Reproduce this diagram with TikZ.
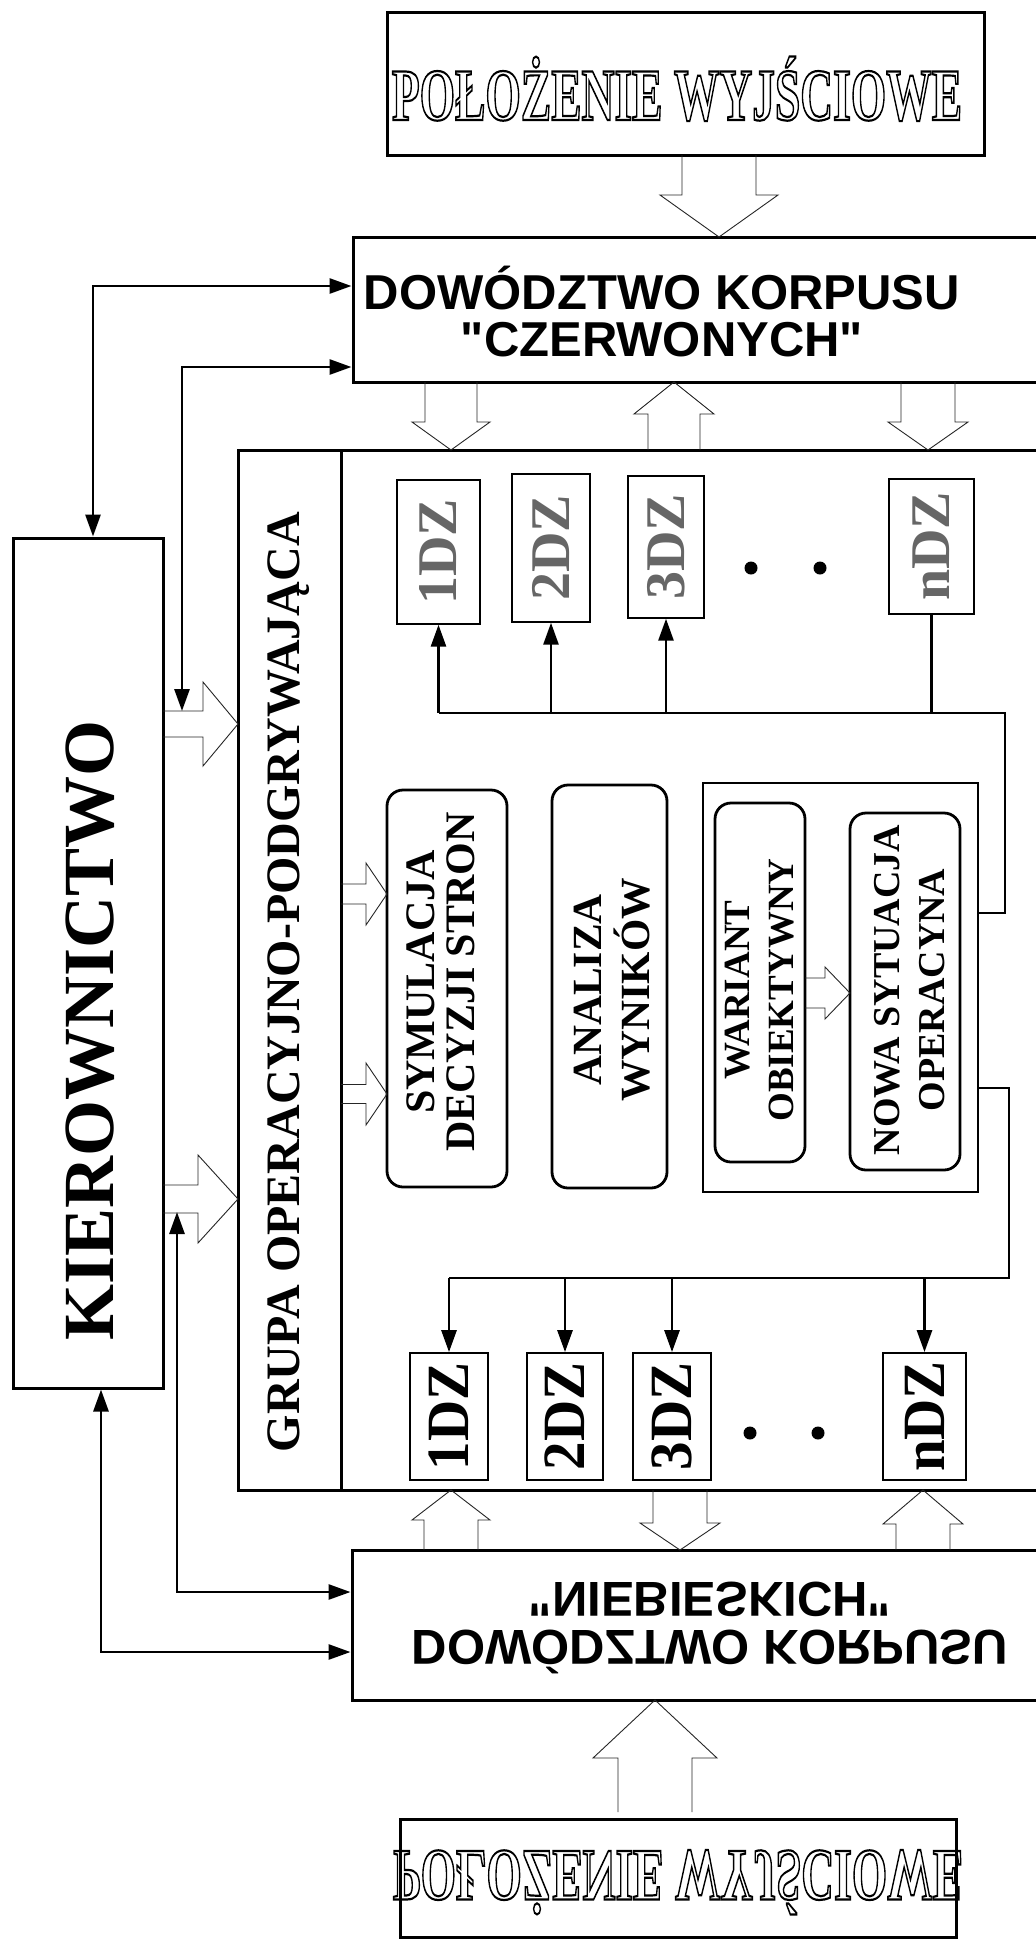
\documentclass[tikz,border=0pt]{standalone}
\usepackage{fontspec}
\setmainfont{Liberation Serif}
\newfontfamily\arialf{Liberation Sans}
\usetikzlibrary{arrows.meta}
\newcommand\sqz[2]{\scalebox{#1}[1]{#2}}
\newcommand\outl[1]{\special{pdf:literal direct 1 Tr 1.1 w}#1\special{pdf:literal direct 0 Tr}}
\newcommand\blkv[6]{\draw[blk] ({#1-#5},#2) -- ({#1-#5},#3) -- ({#1-#6},#3) -- (#1,#4) -- ({#1+#6},#3) -- ({#1+#5},#3) -- ({#1+#5},#2);}
\newcommand\blkh[6]{\draw[blk] (#2,{#1-#5}) -- (#3,{#1-#5}) -- (#3,{#1-#6}) -- (#4,#1) -- (#3,{#1+#6}) -- (#3,{#1+#5}) -- (#2,{#1+#5});}
\begin{document}
\begin{tikzpicture}[x=0.5pt,y=-0.5pt,
  box/.style={draw, line width=1.5pt, inner sep=0pt},
  thinbox/.style={draw, line width=0.7pt, inner sep=0pt},
  rbox/.style={draw, line width=1.4pt, rounded corners=8pt, inner sep=0pt},
  conn/.style={line width=1.4pt, -{Triangle[length=11pt,width=7.5pt]}},
  biconn/.style={line width=1.4pt, {Triangle[length=11pt,width=7.5pt]}-{Triangle[length=11pt,width=7.5pt]}},
  bus/.style={line width=1.4pt},
  blk/.style={draw=black!85, line width=0.45pt, line join=miter},
  dot/.style={circle, fill, inner sep=0pt, minimum size=6.5pt},
  lbl/.style={inner sep=0pt},
  tdz/.style={thinbox, font=\fontsize{28}{28}\selectfont\bfseries, text=black!60},
  bdz/.style={thinbox, line width=0.9pt, minimum height=63.5pt, font=\fontsize{30}{30}\selectfont\bfseries}
]
\fill[white] (0,0) rectangle (1036,1944);
\useasboundingbox (0,0) rectangle (1036,1944);

% --- main boxes
\node[box, minimum width=298.5pt, minimum height=71.5pt] (posT) at (685.5,83.5) {};
\node[lbl, anchor=base] (posTtext) at (677,120) {\fontsize{37}{37}\selectfont\bfseries\sqz{0.615}{\outl{POŁOŻENIE WYJŚCIOWE}}};

\node[box, minimum width=348.5pt, minimum height=72.5pt] (dowT) at (701.5,309.5) {};
\node[lbl] (dowTtext) at (662,318) {\arialf\bfseries\fontsize{24.5}{22.5}\selectfont
  \begin{tabular}{@{}c@{}}DOWÓDZTWO KORPUSU\\"CZERWONYCH"\end{tabular}};

\node[box, minimum width=75pt, minimum height=425pt] (kier) at (88,963) {};
\node[lbl, rotate=90, font=\fontsize{36}{36}\selectfont\bfseries] (kiertext) at (90,1030) {KIEROWNICTWO};

\node[box, minimum width=51.5pt, minimum height=520pt] (grupa) at (289.5,970) {};
\node[lbl, rotate=90, font=\fontsize{24}{24}\selectfont\bfseries] (grupatext) at (289,982) {GRUPA OPERACYJNO-PODGRYWAJĄCA};
\node[box, minimum width=354.5pt, minimum height=520pt] (sim) at (695.5,970) {};

\node[box, minimum width=349pt, minimum height=75pt] (dowB) at (701,1625) {};
\node[lbl] (dowBtext) at (710,1621) {\arialf\bfseries\fontsize{24.5}{24}\selectfont
  \scalebox{1}[-1]{\begin{tabular}{@{}c@{}}DOWÓDZTWO KORPUSU\\"NIEBIESKICH"\end{tabular}}};

\node[box, minimum width=278pt, minimum height=59pt] (posB) at (678,1878) {};
\node[lbl, anchor=base] (posBtext) at (678,1851) {\fontsize{37}{37}\selectfont\bfseries\scalebox{0.615}[-1]{\outl{POŁOŻENIE WYJŚCIOWE}}};

% --- top DZ row
\node[tdz, minimum width=41.5pt, minimum height=72pt] (t1) at (438.5,552) {\rotatebox{90}{1DZ}};
\node[tdz, minimum width=39pt, minimum height=74pt] (t2) at (551,548) {\rotatebox{90}{2DZ}};
\node[tdz, minimum width=38pt, minimum height=71pt] (t3) at (666,547) {\rotatebox{90}{3DZ}};
\node[tdz, minimum width=42.5pt, minimum height=67.5pt] (tn) at (931.5,546.5) {\rotatebox{90}{nDZ}};
\node[dot] (td1) at (751,568) {};
\node[dot] (td2) at (820,568) {};

% --- bottom DZ row
\node[bdz, minimum width=39pt] (b1) at (449,1416.5) {\rotatebox{90}{\sqz{0.95}{1DZ}}};
\node[bdz, minimum width=38pt] (b2) at (565,1416.5) {\rotatebox{90}{\sqz{0.95}{2DZ}}};
\node[bdz, minimum width=39pt] (b3) at (672,1416.5) {\rotatebox{90}{\sqz{0.95}{3DZ}}};
\node[bdz, minimum width=41.5pt] (bn) at (924.5,1416.5) {\rotatebox{90}{\sqz{0.95}{nDZ}}};
\node[dot] (bd1) at (750,1433) {};
\node[dot] (bd2) at (818,1433) {};

% --- inner boxes
\node[rbox, minimum width=60pt, minimum height=198.5pt] (sym) at (447,988.5) {};
\node[lbl, rotate=90, align=center, font=\fontsize{21}{20}\selectfont\bfseries] (symtext) at (441,982) {SYMULACJA\\DECYZJI STRON};
\node[rbox, minimum width=57.5pt, minimum height=201.5pt] (ana) at (609.5,986.5) {};
\node[lbl, rotate=90, align=center, font=\fontsize{20.75}{24}\selectfont\bfseries] (anatext) at (612,990) {ANALIZA\\WYNIKÓW};
\node[box, line width=1.4pt, minimum width=137.5pt, minimum height=204.5pt] (wyn) at (840.5,987.5) {};
\node[rbox, minimum width=45pt, minimum height=179.5pt] (war) at (760,982.5) {};
\node[lbl, rotate=90, align=center, font=\fontsize{18.5}{22}\selectfont\bfseries] (wartext) at (760,990) {WARIANT\\OBIEKTYWNY};
\node[rbox, minimum width=55pt, minimum height=178.5pt] (nowa) at (905,991.5) {};
\node[lbl, rotate=90, align=center, font=\fontsize{19}{22.5}\selectfont\bfseries] (nowatext) at (910,990) {NOWA SYTUACJA\\OPERACYNA};

% --- hollow block arrows
\blkv{719}{155}{195}{237}{37}{59}
\blkv{451}{382}{422}{450}{26}{39}
\blkv{674}{450}{414}{382}{26}{40}
\blkv{928}{382}{422}{450}{27}{40}
\blkh{724}{163}{203}{238}{13}{42}
\blkh{1199}{163}{198}{238}{14}{44}
\blkh{894}{341}{366}{387}{10}{31}
\blkh{1094}{341}{366}{387}{9.5}{31}
\blkh{993}{805}{825}{850}{15}{26}
\blkv{451}{1550}{1520}{1490}{27}{39}
\blkv{680}{1490}{1523}{1550}{27}{40}
\blkv{923}{1550}{1524}{1490}{27}{40}
\blkv{655}{1812}{1758}{1700}{37}{62}

% --- left connectors
\coordinate (j1) at (93,286);
\coordinate (j2) at (182,367);
\coordinate (h5) at (182,711);
\coordinate (j3) at (101,1652);
\coordinate (j4) at (177,1592);
\coordinate (h6) at (177,1212);
\draw[biconn] (kier.north -| j1) |- (dowT.west |- j1);
\draw[biconn] (h5) |- (dowT.west |- j2);
\draw[biconn] (kier.south -| j3) |- (dowB.west |- j3);
\draw[biconn] (h6) |- (dowB.west |- j4);

% --- upper bus
\coordinate (ue) at (1005,913);
\coordinate (ur) at (1005,713);
\draw[bus] (wyn.east |- ue) -- (ue) -- (ur) -- (t1.south |- ur);
\draw[conn] (t1.south |- ur) -- (t1.south);
\draw[conn] (t2.south |- ur) -- (t2.south);
\draw[conn] (t3.south |- ur) -- (t3.south);
\draw[bus] (tn.south |- ur) -- (tn.south);

% --- lower bus
\coordinate (le) at (1009,1088);
\coordinate (lr) at (1009,1278);
\draw[bus] (wyn.east |- le) -- (le) -- (lr) -- (b1.north |- lr);
\draw[conn] (b1.north |- lr) -- (b1.north);
\draw[conn] (b2.north |- lr) -- (b2.north);
\draw[conn] (b3.north |- lr) -- (b3.north);
\draw[conn] (bn.north |- lr) -- (bn.north);
\end{tikzpicture}
\end{document}
